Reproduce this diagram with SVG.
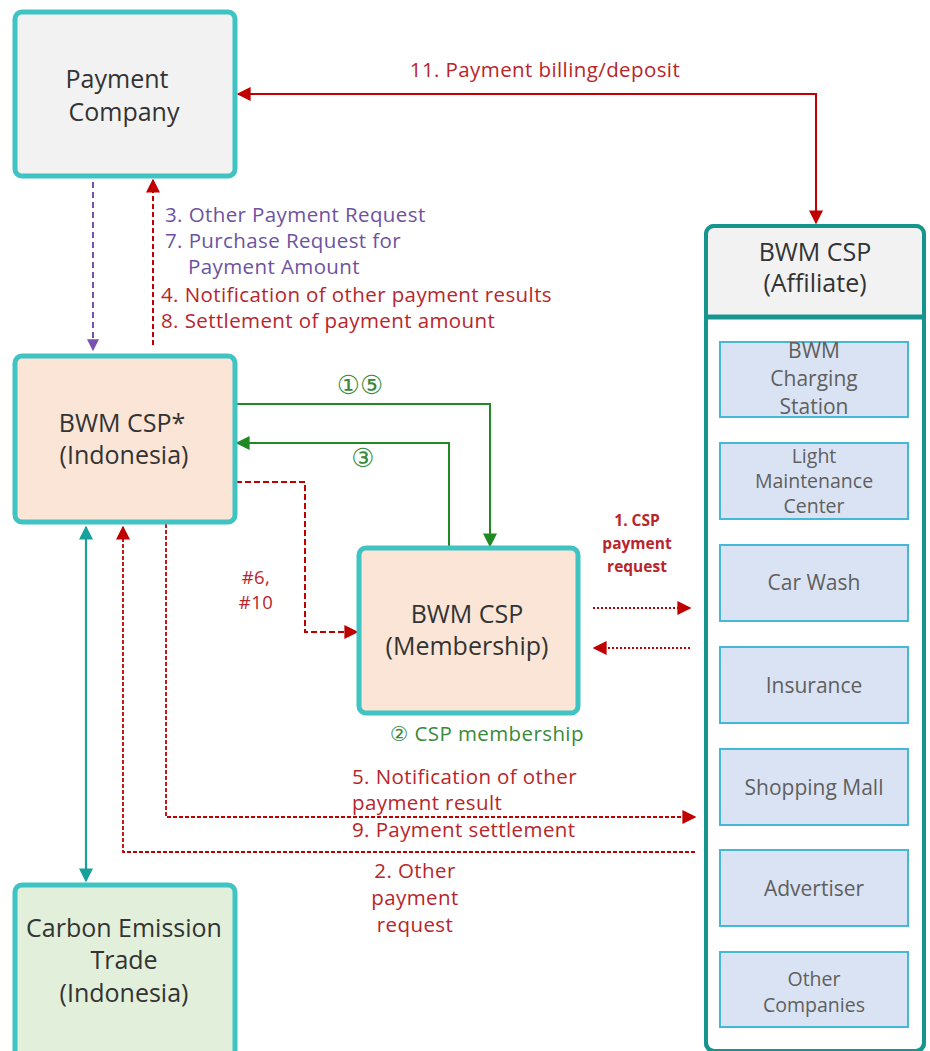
<svg xmlns="http://www.w3.org/2000/svg" width="930" height="1051" viewBox="0 0 930 1051">
  <defs>
    <style>
      .box { stroke: #3fc3c3; stroke-width: 5; }
      .title { font-family: "Open Sans", "Noto Sans", "DejaVu Sans", sans-serif; font-size: 25px; fill: #333; text-anchor: middle; }
      .sub { font-family: "Open Sans", "Noto Sans", "DejaVu Sans", sans-serif; font-size: 21px; fill: #5f5f5f; text-anchor: middle; }
      .sub-sm { font-size: 19.5px; }
      .lbl { font-family: "Open Sans", "Noto Sans", "DejaVu Sans", sans-serif; font-size: 20.5px; letter-spacing: 0.4px; }
      .lbl-sm { font-size: 18.5px; }
      .circ { font-size: 26px; letter-spacing: 0; }
      .red { fill: #b8252b; }
      .purple { fill: #6e52a0; }
      .green { fill: #3a8a3a; }
      .item { fill: #dae3f3; stroke: #45b8d8; stroke-width: 2; }
      .c-red { fill: none; stroke: #c00000; stroke-width: 2; }
      .c-green { fill: none; stroke: #1f8a24; stroke-width: 2; }
    </style>
    <marker id="ah-red" viewBox="0 0 10 10" refX="9" refY="5" markerWidth="14" markerHeight="14" markerUnits="userSpaceOnUse" orient="auto-start-reverse">
      <path d="M0,0 L10,5 L0,10 z" fill="#c00000"/>
    </marker>
    <marker id="ah-purple" viewBox="0 0 10 10" refX="9" refY="5" markerWidth="12" markerHeight="12" markerUnits="userSpaceOnUse" orient="auto-start-reverse">
      <path d="M0,0 L10,5 L0,10 z" fill="#7a4fb0"/>
    </marker>
    <marker id="ah-green" viewBox="0 0 10 10" refX="9" refY="5" markerWidth="14" markerHeight="14" markerUnits="userSpaceOnUse" orient="auto-start-reverse">
      <path d="M0,0 L10,5 L0,10 z" fill="#1f8a24"/>
    </marker>
    <marker id="ah-teal" viewBox="0 0 10 10" refX="9" refY="5" markerWidth="14" markerHeight="14" markerUnits="userSpaceOnUse" orient="auto-start-reverse">
      <path d="M0,0 L10,5 L0,10 z" fill="#17a19b"/>
    </marker>
  </defs>

  <rect width="930" height="1051" fill="#ffffff"/>

  <!-- connectors -->
  <g id="connectors">
    <!-- 11: billing / deposit -->
    <path class="c-red" d="M816,223 L816,94 L238,94" marker-start="url(#ah-red)" marker-end="url(#ah-red)"/>
    <!-- payment company to CSP Indonesia -->
    <path d="M93,182 L93,350" fill="none" stroke="#7a4fb0" stroke-width="2" stroke-dasharray="6,4" marker-end="url(#ah-purple)"/>
    <path d="M153,345 L153,180" fill="none" stroke="#c00000" stroke-width="2" stroke-dasharray="5,3" marker-end="url(#ah-red)"/>
    <!-- membership loop -->
    <path class="c-green" d="M236,404 L490,404 L490,546" marker-end="url(#ah-green)"/>
    <path class="c-green" d="M449,548 L449,443 L237,443" marker-end="url(#ah-green)"/>
    <!-- #6, #10 -->
    <path d="M236,482 L305,482 L305,632 L357,632" fill="none" stroke="#c00000" stroke-width="2" stroke-dasharray="6,3" marker-end="url(#ah-red)"/>
    <!-- CSP payment request -->
    <path d="M593,608 L690,608" fill="none" stroke="#c00000" stroke-width="2" stroke-dasharray="2,2" marker-end="url(#ah-red)"/>
    <path d="M690,648 L594,648" fill="none" stroke="#c00000" stroke-width="2" stroke-dasharray="2,2" marker-end="url(#ah-red)"/>
    <!-- 5 / 9 -->
    <path d="M166,524 L166,817 L695,817" fill="none" stroke="#c00000" stroke-width="1.8" stroke-dasharray="4,2" marker-end="url(#ah-red)"/>
    <!-- 2 -->
    <path d="M695,852 L123,852 L123,527" fill="none" stroke="#c00000" stroke-width="1.8" stroke-dasharray="4,2" marker-end="url(#ah-red)"/>
    <!-- carbon trade link -->
    <path d="M86,527 L86,881" fill="none" stroke="#17a19b" stroke-width="2.2" marker-start="url(#ah-teal)" marker-end="url(#ah-teal)"/>
  </g>

  <!-- connector labels -->
  <g id="labels">
    <text class="lbl red" x="545" y="77" text-anchor="middle">11. Payment billing/deposit</text>
    <text class="lbl purple" x="165" y="222">3. Other Payment Request</text>
    <text class="lbl purple" x="165" y="248">7. Purchase Request for</text>
    <text class="lbl purple" x="188" y="274">Payment Amount</text>
    <text class="lbl red" x="161" y="302">4. Notification of other payment results</text>
    <text class="lbl red" x="161" y="328">8. Settlement of payment amount</text>
    <text class="lbl circ green" x="360" y="394" text-anchor="middle">①⑤</text>
    <text class="lbl circ green" x="363" y="467" text-anchor="middle">③</text>
    <text class="lbl lbl-sm red" x="256" y="584" text-anchor="middle">#6,</text>
    <text class="lbl lbl-sm red" x="256" y="609" text-anchor="middle">#10</text>
    <g font-family="'Open Sans', 'Noto Sans', sans-serif" font-size="15.5" font-weight="bold" fill="#b8252b" text-anchor="middle">
      <text x="637" y="526">1. CSP</text>
      <text x="637" y="549">payment</text>
      <text x="637" y="572">request</text>
    </g>
    <text class="lbl green" x="390" y="741">② CSP membership</text>
    <text class="lbl red" x="352" y="784">5. Notification of other</text>
    <text class="lbl red" x="352" y="810">payment result</text>
    <text class="lbl red" x="352" y="837">9. Payment settlement</text>
    <text class="lbl red" x="415" y="878" text-anchor="middle">2. Other</text>
    <text class="lbl red" x="415" y="905" text-anchor="middle">payment</text>
    <text class="lbl red" x="415" y="932" text-anchor="middle">request</text>
  </g>

  <!-- nodes -->
  <g id="payment-company">
    <rect class="box" x="15" y="12" width="220" height="164" rx="7" fill="#f2f2f2"/>
    <text class="title" x="117" y="88">Payment</text>
    <text class="title" x="124" y="121">Company</text>
  </g>

  <g id="csp-indonesia">
    <rect class="box" x="15" y="356" width="220" height="166" rx="7" fill="#fbe5d6"/>
    <text class="title" x="122" y="432">BWM CSP*</text>
    <text class="title" x="124" y="464">(Indonesia)</text>
  </g>

  <g id="csp-membership">
    <rect class="box" x="359" y="548" width="219" height="165" rx="7" fill="#fbe5d6"/>
    <text class="title" x="467" y="623">BWM CSP</text>
    <text class="title" x="467" y="655">(Membership)</text>
  </g>

  <g id="carbon-trade">
    <rect class="box" x="15" y="885" width="220" height="175" rx="7" fill="#e2efda"/>
    <text class="title" x="124" y="937">Carbon Emission</text>
    <text class="title" x="124" y="969">Trade</text>
    <text class="title" x="124" y="1002">(Indonesia)</text>
  </g>

  <g id="csp-affiliate">
    <rect x="706" y="226" width="218" height="825" rx="8" fill="#ffffff" stroke="#16958f" stroke-width="4"/>
    <path d="M708,228 L922,228 L922,317 L708,317 Z" fill="#f2f2f2"/>
    <line x1="706" y1="317" x2="924" y2="317" stroke="#16958f" stroke-width="5"/>
    <rect x="706" y="226" width="218" height="825" rx="8" fill="none" stroke="#16958f" stroke-width="4"/>
    <text class="title" x="815" y="261">BWM CSP</text>
    <text class="title" x="815" y="292">(Affiliate)</text>
  </g>

  <g id="charging-station">
    <rect class="item" x="720" y="342" width="188" height="75"/>
    <text class="sub" x="814" y="358">BWM</text>
    <text class="sub" x="814" y="386">Charging</text>
    <text class="sub" x="814" y="414">Station</text>
  </g>
  <g id="maintenance-center">
    <rect class="item" x="720" y="443" width="188" height="76"/>
    <text class="sub sub-sm" x="814" y="463">Light</text>
    <text class="sub sub-sm" x="814" y="488">Maintenance</text>
    <text class="sub sub-sm" x="814" y="513">Center</text>
  </g>
  <g id="car-wash">
    <rect class="item" x="720" y="545" width="188" height="76"/>
    <text class="sub" x="814" y="590">Car Wash</text>
  </g>
  <g id="insurance">
    <rect class="item" x="720" y="647" width="188" height="76"/>
    <text class="sub" x="814" y="693">Insurance</text>
  </g>
  <g id="shopping-mall">
    <rect class="item" x="720" y="749" width="188" height="76"/>
    <text class="sub" x="814" y="795">Shopping Mall</text>
  </g>
  <g id="advertiser">
    <rect class="item" x="720" y="850" width="188" height="76"/>
    <text class="sub" x="814" y="896">Advertiser</text>
  </g>
  <g id="other-companies">
    <rect class="item" x="720" y="952" width="188" height="75"/>
    <text class="sub sub-sm" x="814" y="986">Other</text>
    <text class="sub sub-sm" x="814" y="1012">Companies</text>
  </g>
</svg>
